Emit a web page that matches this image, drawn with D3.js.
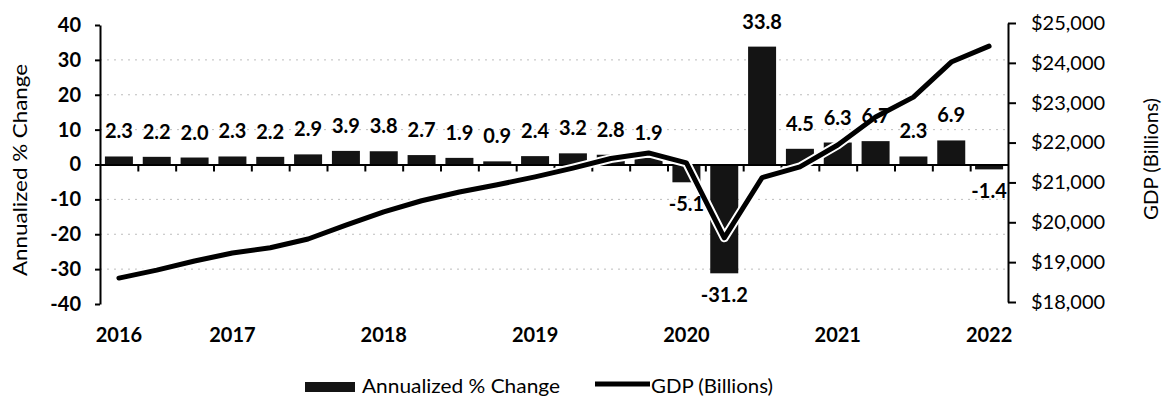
<!DOCTYPE html>
<html>
<head>
<meta charset="utf-8">
<script src="https://cdn.jsdelivr.net/npm/d3@7"></script>
<style>
  html, body { margin: 0; padding: 0; background: #fff; }
  svg { display: block; font-family: Lato, "Open Sans", sans-serif; }
</style>
</head>
<body>
<svg id="chart" width="1163" height="398"></svg>
<script>
// Quarterly real GDP growth (annualized) and nominal GDP level
const quarters = [
  "2016 Q2", "2016 Q3", "2016 Q4",
  "2017 Q1", "2017 Q2", "2017 Q3", "2017 Q4",
  "2018 Q1", "2018 Q2", "2018 Q3", "2018 Q4",
  "2019 Q1", "2019 Q2", "2019 Q3", "2019 Q4",
  "2020 Q1", "2020 Q2", "2020 Q3", "2020 Q4",
  "2021 Q1", "2021 Q2", "2021 Q3", "2021 Q4",
  "2022 Q1"
];
const pctChange = [
  2.3, 2.2, 2.0,
  2.3, 2.2, 2.9, 3.9,
  3.8, 2.7, 1.9, 0.9,
  2.4, 3.2, 2.8, 1.9,
  -5.1, -31.2, 33.8, 4.5,
  6.3, 6.7, 2.3, 6.9,
  -1.4
];
const gdpBillions = [
  18600, 18800, 19030,
  19230, 19360, 19580, 19930,
  20260, 20540, 20760, 20940,
  21140, 21360, 21600, 21740,
  21490, 19610, 21120, 21390,
  21940, 22640, 23140, 24020,
  24420
];
const yearTickQuarters = ["2016 Q2", "2017 Q1", "2018 Q1", "2019 Q1", "2020 Q1", "2021 Q1", "2022 Q1"];
const yearTickLabels = ["2016", "2017", "2018", "2019", "2020", "2021", "2022"];
const pctTicks = [-40, -30, -20, -10, 0, 10, 20, 30, 40];
const gdpTicks = [18000, 19000, 20000, 21000, 22000, 23000, 24000, 25000];

const svg = d3.select("#chart");
const plot = { left: 100, right: 1008, top: 25, bottom: 304 };

const x = d3.scaleBand()
  .domain(quarters)
  .range([plot.left, plot.right])
  .paddingInner(0.26)
  .paddingOuter(0.13);
const yPct = d3.scaleLinear().domain([-40, 40]).range([plot.bottom, plot.top]);
const yGdp = d3.scaleLinear().domain([18000, 25000]).range([302, 23]);
const cx = q => x(q) + x.bandwidth() / 2;
// plain hyphen for negative numbers
const fmtPct = v => d3.format(".1f")(v).replace("\u2212", "-");

// dotted horizontal gridlines
svg.append("g")
  .selectAll("line")
  .data(pctTicks.filter(t => t !== 0 && t !== 40 && t !== -40))
  .join("line")
  .attr("x1", plot.left).attr("x2", plot.right)
  .attr("y1", d => yPct(d)).attr("y2", d => yPct(d))
  .attr("stroke", "#bdbdbd")
  .attr("stroke-width", 1)
  .attr("stroke-dasharray", "2,5");

// bars
svg.append("g")
  .selectAll("rect")
  .data(quarters)
  .join("rect")
  .attr("x", d => x(d))
  .attr("width", x.bandwidth())
  .attr("y", (d, i) => Math.min(yPct(pctChange[i]), yPct(0)))
  .attr("height", (d, i) => Math.abs(yPct(pctChange[i]) - yPct(0)))
  .attr("fill", "#141414");

// zero axis with quarter boundary ticks
const boundary = d3.scaleLinear().domain([0, quarters.length]).range([plot.left, plot.right]);
svg.append("g")
  .attr("transform", `translate(0,${yPct(0)})`)
  .call(d3.axisBottom(boundary)
    .tickValues(d3.range(1, quarters.length))
    .tickSize(7)
    .tickSizeOuter(0)
    .tickFormat(""))
  .call(g => g.select(".domain").attr("stroke", "#000").attr("stroke-width", 2))
  .call(g => g.selectAll(".tick line").attr("stroke", "#000").attr("stroke-width", 2));

// GDP line with a white halo
const line = d3.line()
  .x((d, i) => cx(quarters[i]))
  .y(d => yGdp(d));
svg.append("path")
  .datum(gdpBillions)
  .attr("d", line)
  .attr("fill", "none")
  .attr("stroke", "#fff")
  .attr("stroke-width", 9)
  .attr("stroke-linejoin", "round")
  .attr("stroke-linecap", "round");
svg.append("path")
  .datum(gdpBillions)
  .attr("d", line)
  .attr("fill", "none")
  .attr("stroke", "#000")
  .attr("stroke-width", 5)
  .attr("stroke-linejoin", "round")
  .attr("stroke-linecap", "round");

// value labels
svg.append("g")
  .selectAll("text")
  .data(quarters)
  .join("text")
  .attr("x", d => cx(d))
  .attr("y", (d, i) => pctChange[i] >= 0 ? yPct(pctChange[i]) - 18 : yPct(pctChange[i]) + 29)
  .attr("text-anchor", "middle")
  .attr("font-size", 20)
  .attr("font-weight", "bold")
  .attr("fill", "#000")
  .text((d, i) => fmtPct(pctChange[i]));

// left axis
svg.append("g")
  .attr("transform", `translate(${plot.left},0)`)
  .call(d3.axisLeft(yPct).tickValues(pctTicks).tickSize(5).tickSizeOuter(0).tickPadding(14)
    .tickFormat(d => String(d)))
  .call(g => g.select(".domain").attr("stroke", "#000").attr("stroke-width", 2))
  .call(g => g.selectAll(".tick line").attr("stroke", "#000").attr("stroke-width", 2))
  .call(g => g.selectAll("text")
    .attr("font-size", 20).attr("font-weight", "bold")
    .attr("font-family", "Lato, sans-serif").attr("fill", "#000"));

// right axis
svg.append("g")
  .attr("transform", `translate(${plot.right},0)`)
  .call(d3.axisRight(yGdp).tickValues(gdpTicks).tickSize(8).tickSizeOuter(0).tickPadding(15)
    .tickFormat(d => "$" + d3.format(",")(d)))
  .call(g => g.select(".domain").attr("stroke", "#000").attr("stroke-width", 2))
  .call(g => g.selectAll(".tick line").attr("stroke", "#000").attr("stroke-width", 2))
  .call(g => g.selectAll("text")
    .attr("font-size", 20)
    .attr("font-family", "Lato, sans-serif").attr("fill", "#000"));

// year labels
svg.append("g")
  .attr("transform", "translate(0,325)")
  .call(d3.axisBottom(x).tickValues(yearTickQuarters).tickSize(0).tickPadding(3)
    .tickFormat(d => yearTickLabels[yearTickQuarters.indexOf(d)]))
  .call(g => g.select(".domain").remove())
  .call(g => g.selectAll("text")
    .attr("font-size", 20).attr("font-weight", "bold")
    .attr("font-family", "Lato, sans-serif").attr("fill", "#000"));

// axis titles
svg.append("text")
  .attr("transform", "translate(19,170) rotate(-90)")
  .attr("text-anchor", "middle")
  .attr("dominant-baseline", "central")
  .attr("font-size", 20)
  .attr("textLength", 212)
  .attr("lengthAdjust", "spacingAndGlyphs")
  .text("Annualized % Change");
svg.append("text")
  .attr("transform", "translate(1150,159) rotate(-90)")
  .attr("text-anchor", "middle")
  .attr("dominant-baseline", "central")
  .attr("font-size", 20)
  .attr("textLength", 122)
  .attr("lengthAdjust", "spacingAndGlyphs")
  .text("GDP (Billions)");

// legend
const legend = svg.append("g");
legend.append("rect")
  .attr("x", 305).attr("y", 382).attr("width", 50).attr("height", 10)
  .attr("fill", "#141414");
legend.append("text")
  .attr("x", 362).attr("y", 393)
  .attr("font-size", 20)
  .attr("textLength", 198)
  .attr("lengthAdjust", "spacingAndGlyphs")
  .text("Annualized % Change");
legend.append("line")
  .attr("x1", 595).attr("x2", 650).attr("y1", 384).attr("y2", 384)
  .attr("stroke", "#000").attr("stroke-width", 5);
legend.append("text")
  .attr("x", 651).attr("y", 393)
  .attr("font-size", 20)
  .attr("textLength", 122)
  .attr("lengthAdjust", "spacingAndGlyphs")
  .text("GDP (Billions)");
</script>
</body>
</html>
